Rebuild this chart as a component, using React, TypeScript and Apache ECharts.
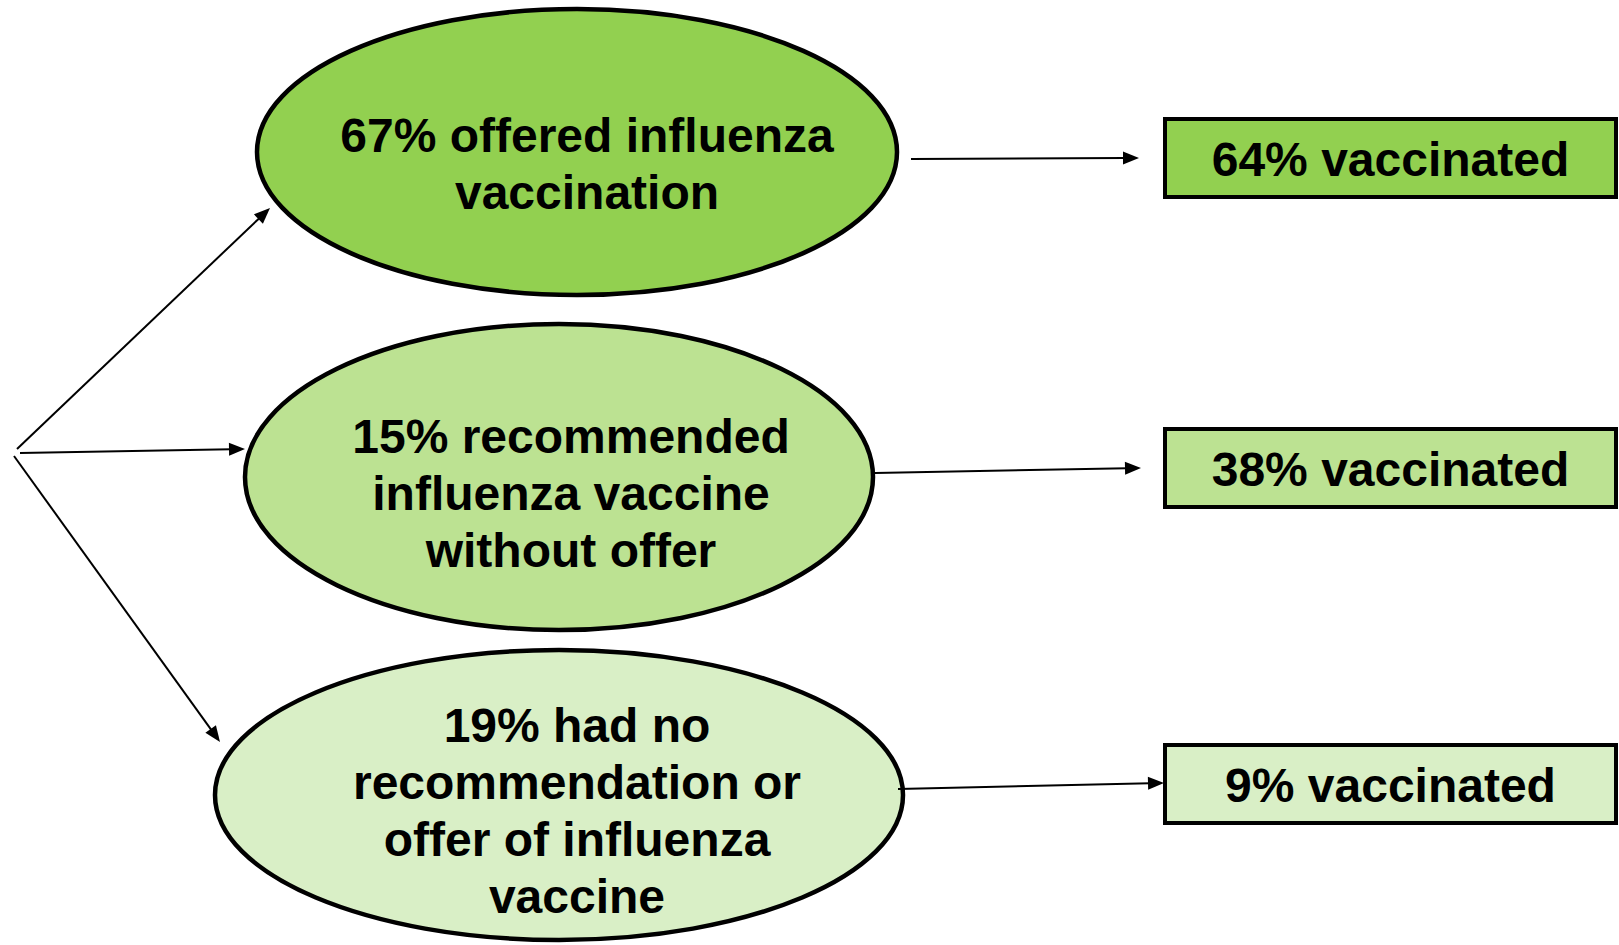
import React, { useEffect, useRef } from "react";
import * as echarts from "echarts";

// Diagram content
const branchLabels: string[][] = [
  ["67% offered influenza", "vaccination"],
  ["15% recommended", "influenza vaccine", "without offer"],
  ["19% had no", "recommendation or", "offer of influenza", "vaccine"],
];
const branchShares = [67, 15, 19];
const outcomeLabels = ["64% vaccinated", "38% vaccinated", "9% vaccinated"];
const outcomeValues = [64, 38, 9];
const fills = ["#92D050", "#BCE292", "#D9EFC6"];

// Layout (pixels)
const ellipses = [
  { cx: 577, cy: 152, rx: 320, ry: 143, tx: 587, ty: 135 },
  { cx: 559, cy: 477, rx: 314, ry: 153, tx: 571, ty: 436 },
  { cx: 559, cy: 795, rx: 344, ry: 145, tx: 577, ty: 725 },
];
const boxes = [
  { x: 1165, y: 119, w: 451, h: 78 },
  { x: 1165, y: 429, w: 451, h: 78 },
  { x: 1165, y: 745, w: 451, h: 78 },
];
const origin = [15, 452];
const leftArrowTips = [
  [270, 208],
  [245, 449],
  [220, 742],
];
const leftArrowStarts = [
  [17, 449],
  [20, 453],
  [14, 456],
];
const rightArrows = [
  { from: [911, 159], to: [1139, 158] },
  { from: [875, 473], to: [1141, 468] },
  { from: [898, 789], to: [1164, 783] },
];

const FONT = "bold 48px 'Liberation Sans', Arial, sans-serif";
const LINE_H = 57;

function arrow(from: number[], to: number[]): any[] {
  const dx = to[0] - from[0];
  const dy = to[1] - from[1];
  const len = Math.sqrt(dx * dx + dy * dy);
  const ux = dx / len;
  const uy = dy / len;
  const headLen = 16;
  const headHalf = 6.5;
  const bx = to[0] - ux * headLen;
  const by = to[1] - uy * headLen;
  const px = -uy;
  const py = ux;
  return [
    {
      type: "line",
      shape: { x1: from[0], y1: from[1], x2: bx + ux * 2, y2: by + uy * 2 },
      style: { stroke: "#000", lineWidth: 2 },
      silent: true,
    },
    {
      type: "polygon",
      shape: {
        points: [
          [to[0], to[1]],
          [bx + px * headHalf, by + py * headHalf],
          [bx - px * headHalf, by - py * headHalf],
        ],
      },
      style: { fill: "#000" },
      silent: true,
    },
  ];
}

export default function App() {
  const ref = useRef<HTMLDivElement>(null);
  useEffect(() => {
    document.body.style.margin = "0";
    if (!ref.current) return;
    const chart = echarts.init(ref.current, undefined, { renderer: "svg" });
    const elements: any[] = [];

    leftArrowTips.forEach((tip, i) => {
      elements.push(...arrow(leftArrowStarts[i] ?? origin, tip));
    });

    ellipses.forEach((e, i) => {
      elements.push({
        type: "ellipse",
        shape: { cx: e.cx, cy: e.cy, rx: e.rx, ry: e.ry },
        style: { fill: fills[i], stroke: "#000", lineWidth: 4.5 },
        silent: true,
      });
      branchLabels[i].forEach((line, j) => {
        elements.push({
          type: "text",
          style: {
            text: line,
            x: e.tx,
            y: e.ty + j * LINE_H,
            font: FONT,
            fill: "#000",
            textAlign: "center",
            textVerticalAlign: "middle",
          },
          silent: true,
        });
      });
    });

    rightArrows.forEach((a) => {
      elements.push(...arrow(a.from, a.to));
    });

    boxes.forEach((b, i) => {
      elements.push({
        type: "rect",
        shape: { x: b.x, y: b.y, width: b.w, height: b.h },
        style: { fill: fills[i], stroke: "#000", lineWidth: 4, lineJoin: "miter" },
        silent: true,
      });
      elements.push({
        type: "text",
        style: {
          text: outcomeLabels[i],
          x: b.x + b.w / 2,
          y: b.y + b.h / 2 + 1,
          font: FONT,
          fill: "#000",
          textAlign: "center",
          textVerticalAlign: "middle",
        },
        silent: true,
      });
    });

    chart.setOption({
      animation: false,
      backgroundColor: "#ffffff",
      graphic: { elements },
      series: [],
      _meta: { branchShares, outcomeValues },
    } as any);
    return () => chart.dispose();
  }, []);
  return <div ref={ref} style={{ width: 1619, height: 945 }} />;
}
